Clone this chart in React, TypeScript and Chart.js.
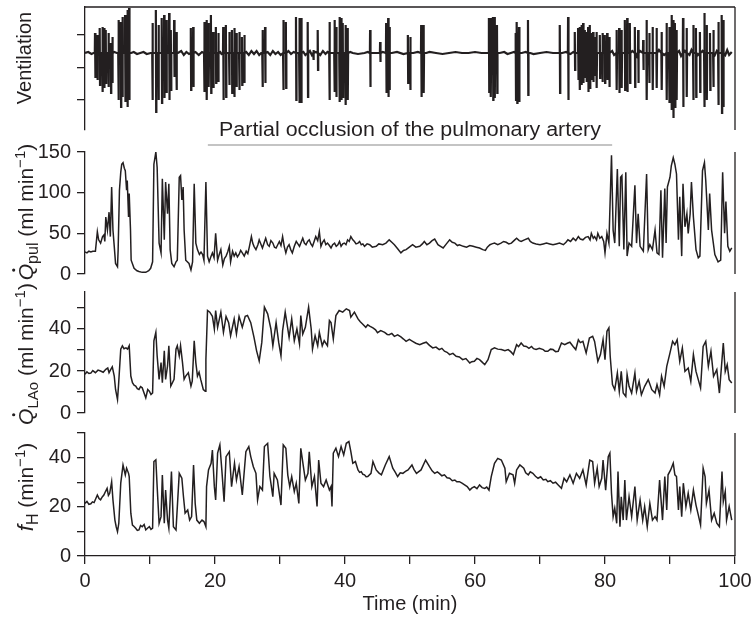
import React, { useEffect, useRef } from 'react';
import { Chart, registerables } from 'chart.js';

Chart.register(...registerables);

const FONT = '"Liberation Sans", Arial, Helvetica, sans-serif';
const INK = '#231f20';

// ---------- axes ----------
const timeTicks = [0, 10, 20, 30, 40, 50, 60, 70, 80, 90, 100];
const timeTickLabels = ['0', '', '20', '', '40', '', '60', '', '80', '', '100'];
const ventTicks = [18, -15, -47];
const qpulTicks = [0, 50, 100, 150];
const qpulTickLabels = ['0', '50', '100', '150'];
const qlaoTicks = [0, 10, 20, 30, 40, 50];
const qlaoTickLabels = ['0', '', '20', '', '40', ''];
const fhTicks = [0, 10, 20, 30, 40, 50];
const fhTickLabels = ['0', '', '20', '', '40', ''];

const occlusionLabel = 'Partial occlusion of the pulmonary artery';
const occlusionStart = 18.9;
const occlusionEnd = 81.1;

// ---------- ventilation (arbitrary units, 0 = baseline) ----------
// [time, top, bottom] of each breathing stroke
const ventSpikes: number[][] = [
  [1.54, 20, -25], [1.9, 18, -27], [2.26, 25, -32], [2.67, 26, -39], [2.93, 25, -35], [3.19, 23, -30], [3.6, 20, -34],
  [3.96, 10, -40], [4.2, 16, -30],
  [5.14, 33, -47], [5.5, 31, -54], [5.75, 36, -44], [6.16, 38, -49], [6.52, 43, -54], [6.78, 45, -47],
  [10.37, 30, -47], [10.9, 43, -59], [11.3, 28, -47], [11.8, 35, -50], [12.17, 38, -45], [12.53, 33, -40], [12.94, 40, -47],
  [13.2, 23, -37], [13.71, 33, -24], [14.07, 21, -37],
  [16.28, 25, -37], [16.64, 26, -34],
  [18.34, 31, -39], [18.7, 33, -47], [19.0, 30, -34], [19.37, 38, -40], [19.72, 21, -35], [20.13, 26, -30], [20.5, 20, -29],
  [21.26, 26, -47], [21.67, 28, -44], [22.19, 21, -32], [22.6, 23, -40], [22.96, 25, -44], [23.3, 20, -34], [23.73, 21, -37],
  [24.14, 16, -32], [24.5, 18, -30],
  [27.3, 23, -34], [27.7, 26, -30],
  [30.5, 33, -37], [30.9, 31, -35],
  [32.46, 36, -47], [32.97, 35, -50], [33.25, 35, -50],
  [34.26, 31, -44], [35.13, 3, -7], [35.8, 23, -17],
  [37.6, 31, -47], [38.37, 33, -39], [38.63, 26, -44], [39.14, 36, -49], [39.4, 35, -47], [39.65, 30, -44], [40.06, 28, -52],
  [40.4, 25, -47],
  [43.86, 23, -34], [45.4, 11, -9],
  [46.33, 30, -40], [46.64, 35, -44], [46.84, 26, -37],
  [49.67, 18, -30], [50.03, 16, -37],
  [51.72, 28, -44], [52.08, 28, -40],
  [62.14, 35, -39], [62.4, 35, -44], [62.76, 36, -47], [63.02, 36, -45], [63.38, 28, -40],
  [66.26, 20, -47], [66.46, 31, -50], [66.77, 26, -49],
  [68.15, 33, -42],
  [73.04, 28, -40],
  [74.32, 36, -47],
  [75.35, 21, -17], [75.86, 25, -27], [76.1, 26, -37], [76.37, 28, -32], [76.63, 30, -30], [76.89, 23, -24], [77.15, 21, -29],
  [77.4, 26, -39], [77.66, 28, -35], [77.92, 20, -27], [78.17, 21, -29], [78.43, 16, -22], [78.69, 21, -35], [79.2, 18, -25],
  [79.6, 20, -29], [79.97, 18, -30], [80.33, 20, -27], [80.64, 16, -34],
  [81.77, 23, -37], [82.17, 25, -40], [82.54, 23, -35], [83.05, 33, -37], [83.41, 35, -39], [83.82, 30, -30],
  [84.59, 26, -34], [85.1, 23, -30], [85.87, 13, -17], [86.39, 33, -47], [86.8, 20, -30], [87.32, 26, -37], [87.93, 25, -35],
  [88.7, 21, -37], [89.47, 30, -47], [89.88, 26, -50], [90.24, 38, -57], [90.5, 33, -65], [90.75, 30, -54], [91.0, 23, -47],
  [92.0, 35, -54], [92.55, 25, -44], [93.57, 28, -47], [93.99, 25, -44], [94.6, 21, -39], [95.27, 40, -54], [95.64, 28, -47],
  [96.15, 20, -37], [96.66, 23, -34], [97.43, 31, -52], [97.95, 38, -60], [98.2, 33, -54],
];
// [time, value] of the quiet baseline between strokes
const ventBase: number[][] = [
  [0, 0], [0.5, 1], [1.0, -1], [1.3, 0], [4.5, 1], [4.9, 0], [7.1, 0], [7.5, 1], [8.0, -1], [8.5, 0], [9.0, 1], [9.5, -1], [10.1, 0],
  [14.3, 0], [14.8, 2], [15.2, -2], [15.6, 1], [16.0, -1], [17.0, 1], [17.5, -2], [18.0, 1], [20.8, 1], [21.0, -1],
  [24.8, 1], [25.2, -2], [25.6, 2], [26.0, -1], [26.4, 2], [26.8, -2], [27.1, 0], [28.1, 1], [28.5, -2], [28.9, 2],
  [29.3, -1], [29.7, 1], [30.1, -2], [31.3, 2], [31.7, -1], [32.1, 1], [33.6, 1], [33.9, -2], [34.6, 2], [34.9, -2],
  [35.5, 1], [36.2, -2], [36.6, 2], [37.0, -1], [37.3, 1], [40.8, 1], [41.2, 0], [42.0, -1], [43.0, 0], [43.5, 1],
  [44.3, 0], [45.0, 0], [45.8, 1], [47.2, 0], [48.0, 1], [49.0, -1], [50.5, 0], [51.2, 1], [52.5, 0], [53.0, 1],
  [54.0, 0], [55.0, -1], [56.0, 0], [57.0, 1], [58.0, 0], [59.0, 0], [60.0, 1], [61.0, 0], [61.8, 0], [63.8, 0],
  [64.5, 1], [65.0, -1], [65.5, 0], [66.0, 1], [67.2, 0], [67.8, 1], [68.5, 0], [69.0, -1], [70.0, 0], [71.0, 1],
  [72.0, 0], [72.7, 0], [73.4, 0], [74.0, 1], [74.7, -1], [75.1, 1], [81.1, 2], [81.4, -2], [84.2, 2], [84.9, -3],
  [85.4, 2], [88.3, 3], [89.1, -2], [91.4, 2], [91.7, -3], [92.3, 2], [93.0, -2], [93.3, 3], [94.3, -2], [95.0, 2],
  [96.9, -2], [97.2, 2], [98.5, -2], [98.8, 3], [99.1, -2], [99.5, 1],
];

// ---------- pulmonary flow (ml/min) ----------
const qpulSamples: number[][] = [
  [0, 27], [0.3, 26], [0.6, 28], [0.9, 27], [1.2, 28], [1.6, 28], [1.9, 52], [2.1, 42], [2.4, 38], [2.7, 46], [2.9, 48],
  [3.05, 40], [3.2, 70], [3.45, 54], [3.7, 76], [3.9, 46], [4.1, 107], [4.3, 54], [4.5, 34], [4.7, 13], [5.0, 9], [5.1, 30],
  [5.3, 103], [5.5, 125], [5.65, 135], [5.85, 137], [6.05, 130], [6.2, 127], [6.4, 103], [6.5, 115], [6.7, 70], [6.8, 99],
  [7.0, 54], [7.1, 17], [7.55, 7], [8.0, 4], [8.3, 3], [8.8, 2], [9.35, 2], [9.8, 4], [10.1, 7], [10.4, 15], [10.6, 135],
  [10.9, 150], [11.1, 131], [11.4, 38], [11.7, 26], [11.9, 117], [12.2, 42], [12.4, 113], [12.7, 74], [12.9, 111], [13.1, 30],
  [13.35, 13], [13.7, 9], [14.0, 15], [14.2, 17], [14.5, 119], [14.7, 121], [14.9, 91], [15.1, 107], [15.25, 54], [15.5, 17],
  [16.0, 13], [16.3, 5], [16.55, 15], [16.8, 111], [17.05, 38], [17.3, 30], [17.6, 24], [17.85, 27], [18.1, 24], [18.3, 17],
  [18.6, 113], [18.85, 22], [19.1, 15], [19.35, 21], [19.6, 26], [19.85, 20], [20.1, 50], [20.4, 17], [20.65, 24], [20.9, 30],
  [21.2, 11], [21.45, 19], [21.7, 22], [21.95, 27], [22.2, 34], [22.4, 15], [22.7, 28], [22.95, 22], [23.2, 26], [23.45, 21],
  [23.7, 24], [23.95, 29], [24.2, 26], [24.5, 22], [24.8, 28], [25.05, 25], [25.3, 34], [25.6, 46], [25.8, 38], [26.0, 34],
  [26.3, 30], [26.6, 36], [26.8, 42], [27.05, 37], [27.3, 32], [27.55, 38], [27.8, 44], [28.1, 36], [28.35, 34], [28.6, 41],
  [28.9, 38], [29.15, 33], [29.4, 32], [29.65, 36], [29.9, 40], [30.15, 35], [30.4, 46], [30.65, 34], [30.9, 26], [31.15, 33],
  [31.4, 36], [31.65, 30], [31.9, 26], [32.2, 34], [32.5, 40], [32.75, 37], [33.0, 34], [33.25, 39], [33.5, 44], [33.75, 38],
  [34.0, 36], [34.25, 40], [34.5, 42], [34.75, 37], [35.0, 34], [35.25, 40], [35.5, 46], [35.8, 41], [36.05, 52], [36.3, 34],
  [36.55, 39], [36.8, 42], [37.05, 36], [37.3, 38], [37.6, 35], [37.85, 32], [38.1, 36], [38.4, 38], [38.65, 34], [38.9, 36],
  [39.15, 40], [39.4, 34], [39.65, 37], [39.9, 38], [40.15, 36], [40.4, 42], [40.65, 40], [40.9, 46], [41.2, 42], [41.45, 40],
  [41.7, 37], [42.0, 38], [42.25, 40], [42.5, 36], [42.75, 37], [43.0, 34], [43.4, 37], [43.8, 36], [44.2, 33], [44.8, 34],
  [45.2, 37], [45.8, 36], [46.3, 38], [46.8, 42], [47.2, 39], [47.6, 36], [48.1, 31], [48.6, 26], [49.0, 29], [49.4, 30],
  [49.9, 33], [50.4, 36], [50.9, 33], [51.5, 34], [51.9, 37], [52.2, 40], [52.6, 36], [53.0, 38], [53.4, 41], [53.8, 43],
  [54.3, 36], [54.7, 34], [55.1, 32], [55.6, 37], [56.1, 42], [56.5, 39], [56.9, 38], [57.3, 35], [57.6, 36], [58.2, 34],
  [58.7, 33], [59.2, 35], [59.7, 34], [60.2, 33], [60.7, 32], [61.2, 30], [61.6, 29], [61.9, 33], [62.3, 36], [62.6, 37],
  [63.0, 38], [63.5, 36], [64.0, 38], [64.4, 40], [64.8, 39], [65.2, 37], [65.6, 38], [66.0, 41], [66.4, 44], [66.8, 41],
  [67.1, 40], [67.6, 42], [68.2, 44], [68.5, 40], [68.9, 38], [69.4, 37], [70.0, 36], [70.5, 37], [71.0, 38], [71.5, 37],
  [72.0, 36], [72.5, 37], [73.0, 38], [73.6, 36], [74.0, 39], [74.3, 42], [74.7, 40], [75.1, 44], [75.5, 41], [75.9, 46],
  [76.2, 43], [76.6, 42], [77.0, 45], [77.4, 46], [77.7, 42], [77.9, 50], [78.2, 44], [78.4, 46], [78.7, 42], [78.9, 50],
  [79.2, 44], [79.5, 46], [79.8, 40], [80.0, 26], [80.3, 50], [80.6, 38], [81.0, 146], [81.25, 54], [81.5, 38], [81.9, 129],
  [82.2, 34], [82.4, 119], [82.6, 121], [82.9, 30], [83.2, 125], [83.4, 22], [83.7, 38], [84.1, 34], [84.6, 109], [84.85, 38],
  [85.1, 74], [85.4, 34], [85.9, 28], [86.4, 123], [86.65, 30], [86.9, 36], [87.3, 30], [87.7, 54], [88.0, 26], [88.3, 24],
  [88.6, 103], [88.85, 20], [89.2, 105], [89.4, 38], [89.6, 107], [90.0, 119], [90.2, 133], [90.5, 143], [90.75, 135],
  [91.0, 123], [91.3, 42], [91.5, 95], [91.8, 22], [92.0, 111], [92.3, 58], [92.6, 74], [92.8, 50], [93.1, 74], [93.3, 113],
  [93.6, 70], [94.0, 30], [94.35, 20], [94.6, 22], [95.0, 127], [95.3, 137], [95.5, 115], [95.9, 54], [96.1, 99], [96.4, 54],
  [96.9, 24], [97.4, 15], [97.8, 17], [98.1, 125], [98.4, 50], [98.6, 89], [98.9, 34], [99.2, 28], [99.5, 32],
];

// ---------- left aortic flow (ml/min) ----------
const qlaoSamples: number[][] = [
  [0, 18.4], [0.3, 19.6], [0.6, 18.8], [0.9, 19], [1.2, 20.2], [1.6, 19.2], [2.0, 20.4], [2.4, 20], [2.8, 19.4], [3.2, 20.8],
  [3.5, 21.4], [3.7, 19.2], [3.95, 20.6], [4.2, 22], [4.5, 17.6], [4.7, 11.2], [5.0, 6.4], [5.15, 12.8], [5.5, 30.4],
  [5.75, 32], [6.0, 30.6], [6.3, 31], [6.55, 30.4], [6.8, 32], [7.05, 17.6], [7.3, 14.4], [7.55, 13.2], [7.8, 12.8],
  [8.05, 11.6], [8.3, 11.2], [8.55, 12.6], [8.8, 12], [9.1, 9.4], [9.35, 7.2], [9.65, 11.2], [9.9, 10.4], [10.15, 8.8],
  [10.4, 9.6], [10.6, 34.4], [10.9, 38.4], [11.1, 27.2], [11.4, 16], [11.7, 24], [11.9, 14.4], [12.2, 29.6], [12.4, 16],
  [12.7, 22.4], [12.9, 32], [13.2, 12.8], [13.45, 14.4], [13.7, 16], [14.0, 30.4], [14.2, 32], [14.5, 27.2], [14.7, 32],
  [15.0, 24], [15.25, 16], [15.5, 17.6], [15.9, 19.2], [16.3, 12.8], [16.5, 15.2], [16.8, 34.4], [17.05, 24], [17.3, 17.6],
  [17.55, 19.4], [17.8, 16], [18.2, 11.2], [18.5, 10.4], [18.6, 25.6], [18.85, 48.8], [19.2, 48], [19.6, 46], [19.9, 40],
  [20.1, 48.8], [20.4, 40.8], [20.9, 48], [21.3, 38.4], [21.7, 46], [22.1, 43], [22.4, 36.8], [22.95, 44.8], [23.3, 37.6],
  [23.7, 46], [24.2, 40.8], [24.65, 46], [25.0, 46.4], [25.5, 43], [26.0, 36], [26.4, 29.6], [26.8, 24.8], [27.2, 33.6],
  [27.6, 50.4], [28.1, 47.2], [28.6, 40], [28.9, 32], [29.4, 43], [29.8, 33.6], [30.15, 27.2], [30.4, 39.2], [30.8, 48],
  [31.2, 40], [31.4, 36], [31.8, 44.8], [32.2, 34.4], [32.6, 40], [33.0, 32.8], [33.2, 46.4], [33.5, 37.6], [33.9, 40.8],
  [34.4, 50.4], [34.8, 40], [35.0, 30.4], [35.4, 36.8], [35.8, 32], [36.05, 38.4], [36.5, 32], [36.8, 34.4], [37.3, 32],
  [37.6, 44], [37.85, 43], [38.2, 35.2], [38.6, 46.4], [39.1, 48.8], [39.65, 48], [40.2, 49.6], [40.7, 48.8], [40.9, 45.6],
  [41.45, 48], [42.0, 44.8], [42.35, 43.4], [42.7, 42.4], [43.2, 40.8], [43.5, 42], [43.8, 41.4], [44.3, 40.5], [44.7, 39.6],
  [45.0, 38.2], [45.5, 39.2], [46.1, 38.4], [46.5, 37.4], [46.8, 37.3], [47.2, 37.9], [47.6, 36.5], [48.1, 37.2], [48.6, 36.2],
  [49.0, 35.2], [49.4, 34.1], [49.9, 35], [50.4, 34.1], [50.9, 33.2], [51.5, 32.5], [52.0, 33.2], [52.5, 33.7], [53.0, 32.2],
  [53.5, 31], [54.0, 31.4], [54.5, 30.2], [54.9, 30.8], [55.3, 29.4], [55.7, 28.9], [56.1, 27.8], [56.6, 28.4], [57.1, 27],
  [57.6, 26.7], [58.1, 25.4], [58.6, 25.9], [59.2, 23.8], [59.5, 24.4], [59.9, 24.6], [60.3, 26], [60.7, 25.4], [61.1, 24.2],
  [61.5, 23], [62.0, 25.4], [62.5, 30.2], [63.0, 31], [63.5, 30.4], [64.05, 30.2], [64.6, 29.6], [65.1, 30.2], [65.5, 29.2],
  [65.9, 27.8], [66.4, 32.5], [66.7, 31.6], [67.1, 33.3], [67.5, 31.9], [67.9, 31.7], [68.3, 30.8], [68.7, 31.7], [69.0, 30.6],
  [69.4, 30.2], [69.9, 30.8], [70.5, 30.2], [70.8, 29.4], [71.2, 29.4], [71.6, 30.4], [72.0, 30.2], [72.4, 29.2], [72.8, 29.4],
  [73.3, 33.3], [73.8, 32.5], [74.2, 33.2], [74.6, 33.7], [75.1, 31.7], [75.5, 30.2], [75.9, 34.9], [76.2, 33.5], [76.6, 34.1],
  [77.1, 28.6], [77.6, 35.7], [78.1, 36.5], [78.4, 34.1], [78.9, 24.6], [79.3, 27.8], [79.7, 34.9], [80.0, 25.4], [80.3, 38.9],
  [80.6, 40.5], [80.8, 27], [81.15, 13.5], [81.5, 11.1], [81.9, 19], [82.2, 10.3], [82.5, 19.8], [82.8, 9.5], [83.2, 7.9],
  [83.4, 18.3], [83.7, 12.7], [84.1, 9.5], [84.6, 19], [84.85, 10.3], [85.25, 15.1], [85.6, 8.7], [86.1, 12.7], [86.65, 15.9],
  [87.2, 11.1], [87.7, 9.5], [88.0, 13.5], [88.4, 8.7], [88.7, 17.5], [89.1, 12.7], [89.5, 22.2], [90.0, 28.6], [90.4, 34.1],
  [90.75, 32.5], [91.1, 34.9], [91.5, 24.6], [91.9, 31], [92.3, 19.8], [92.8, 21.4], [93.2, 15.1], [93.6, 27.8], [94.0, 19.8],
  [94.35, 15.9], [94.7, 11.9], [95.1, 31.7], [95.5, 34.1], [95.9, 22.2], [96.3, 29.4], [96.7, 17.5], [97.2, 20.6], [97.6, 9.5],
  [98.0, 25.4], [98.2, 33.3], [98.5, 19.8], [98.8, 23], [99.1, 15.9], [99.5, 14.3],
];

// ---------- heart rate (1/min) ----------
const fhSamples: number[][] = [
  [0, 21.4], [0.3, 22.2], [0.6, 21], [0.9, 21.2], [1.15, 22], [1.4, 21.7], [1.9, 24.8], [2.15, 23.4], [2.4, 22.8], [2.65, 24],
  [2.9, 24.8], [3.15, 26.2], [3.4, 27.5], [3.6, 24.6], [3.8, 25.5], [4.1, 30.2], [4.3, 22.8], [4.6, 14.6], [4.8, 11.9],
  [5.0, 9.9], [5.2, 13.3], [5.5, 29.6], [5.85, 37], [6.2, 33], [6.4, 35.7], [6.7, 33.6], [6.8, 32.3], [7.05, 17.4], [7.3, 12.6],
  [7.55, 12], [7.8, 11.3], [8.05, 10.4], [8.3, 10.6], [8.55, 12.4], [8.8, 11.9], [9.1, 12.8], [9.35, 10.6], [9.65, 11.4],
  [9.9, 11.9], [10.15, 10.8], [10.4, 11.3], [10.6, 38.4], [10.9, 39.1], [11.1, 28.2], [11.4, 13.3], [11.7, 16], [11.9, 32.9],
  [12.2, 13.3], [12.4, 26.8], [12.7, 14.6], [12.9, 11.3], [13.3, 34.3], [13.6, 11.9], [14.0, 10.6], [14.5, 33.6], [14.9, 31.6],
  [15.15, 24.1], [15.4, 17.4], [15.8, 18.7], [16.1, 14.6], [16.4, 16], [16.7, 37], [16.95, 21.4], [17.2, 14.6], [17.6, 13.3],
  [18.0, 14.6], [18.3, 14], [18.6, 11.9], [18.7, 28.2], [19.0, 35], [19.4, 37.7], [19.6, 43.1], [19.9, 28.2], [20.1, 22.8],
  [20.4, 41.8], [20.75, 45.2], [21.05, 35], [21.4, 22.1], [21.7, 40.4], [22.2, 42.4], [22.55, 28.2], [23.0, 37.7], [23.3, 30.9],
  [23.7, 36.3], [24.2, 24.8], [24.75, 42.4], [25.2, 44.5], [25.5, 40.4], [25.9, 36.3], [26.3, 33.6], [26.55, 22.8], [26.9, 28.2],
  [27.3, 26.8], [27.6, 44.5], [28.1, 45.8], [28.45, 32.3], [28.9, 24.1], [29.1, 33.6], [29.6, 30.9], [30.15, 20.7], [30.5, 45.2],
  [30.9, 43.8], [31.2, 32.9], [31.5, 28.2], [31.8, 32.3], [32.2, 26.2], [32.5, 29.6], [32.9, 21.4], [33.2, 43.8], [33.6, 36.3],
  [33.9, 30.9], [34.3, 33.6], [34.5, 42.4], [34.9, 28.2], [35.3, 32.3], [35.7, 20.1], [35.95, 39], [36.3, 29.6], [36.7, 28.2],
  [37.1, 30.9], [37.6, 26.8], [37.85, 28.2], [38.0, 20.1], [38.2, 41.8], [38.6, 43.8], [39.0, 40.4], [39.4, 44.5], [39.8, 41.1],
  [40.2, 45.8], [40.6, 46.5], [40.9, 42.4], [41.2, 37.7], [41.6, 38.4], [42.0, 35], [42.25, 34], [42.5, 34.3], [42.75, 33.2],
  [43.0, 33], [43.25, 32.2], [43.5, 32.3], [44.0, 33.6], [44.3, 38.4], [44.8, 35], [45.2, 33.8], [45.6, 33], [46.2, 37],
  [46.8, 40.4], [47.35, 35.7], [47.7, 34.2], [48.1, 32.3], [48.5, 33.8], [48.9, 33.6], [49.3, 34.4], [49.7, 35], [50.3, 37],
  [50.6, 35.2], [51.0, 33.6], [51.3, 34.2], [51.7, 35], [52.4, 39], [53.0, 36.3], [53.4, 34.6], [53.8, 33.6], [54.2, 34.2],
  [54.5, 33.6], [54.9, 32.6], [55.3, 33], [55.7, 31.8], [56.1, 31.6], [56.5, 30.6], [56.9, 30.9], [57.2, 30.2], [57.6, 30.2],
  [58.0, 29.6], [58.4, 28.9], [58.8, 28.2], [59.2, 26.8], [59.5, 27.6], [59.9, 28.2], [60.3, 27.4], [60.7, 28.9], [61.1, 27.8],
  [61.5, 27.5], [61.8, 28], [62.15, 26.8], [62.5, 32.3], [63.0, 37.7], [63.5, 39.7], [64.05, 39], [64.6, 35.7], [64.8, 30.2],
  [65.3, 33.6], [65.85, 33], [66.1, 29.6], [66.4, 35], [66.9, 37], [67.5, 35.7], [67.8, 33.8], [68.2, 33], [68.5, 34.2],
  [68.9, 33.6], [69.3, 32.4], [69.7, 31.6], [70.1, 32.2], [70.5, 30.9], [70.9, 31.2], [71.2, 30.2], [71.6, 30.6], [72.0, 29.6],
  [72.4, 30], [72.8, 28.9], [73.3, 27.5], [73.7, 31.6], [74.1, 30.2], [74.6, 33], [75.1, 29.6], [75.6, 33.6], [76.1, 31.6],
  [76.6, 35], [77.1, 28.9], [77.65, 39], [78.1, 38.4], [78.4, 29.6], [78.8, 35.7], [79.1, 28.2], [79.5, 31.6], [79.7, 39],
  [80.1, 26.8], [80.5, 40.4], [80.75, 41.8], [81.0, 25.5], [81.25, 16], [81.5, 19.4], [81.8, 13.3], [82.0, 34.3], [82.3, 11.9],
  [82.5, 24.1], [82.8, 14.6], [83.05, 30.9], [83.3, 14.6], [83.7, 24.1], [84.1, 16], [84.6, 28.2], [84.95, 14.6], [85.4, 22.8],
  [85.8, 14.6], [86.1, 20.1], [86.5, 11.9], [86.9, 21.4], [87.3, 14.6], [87.7, 16], [88.0, 14.6], [88.4, 30.9], [88.85, 14.6],
  [89.2, 32.3], [89.5, 18.7], [89.7, 33], [90.1, 35], [90.5, 37.7], [90.75, 33], [91.0, 32.3], [91.3, 18.7], [91.5, 28.2],
  [91.8, 16], [92.05, 29.6], [92.45, 20.1], [92.8, 25.5], [93.2, 18.7], [93.6, 26.8], [94.0, 20.7], [94.35, 16.7], [94.7, 12.6],
  [95.1, 35.7], [95.4, 32.3], [95.6, 21.4], [96.0, 26.8], [96.4, 14.6], [96.8, 17.4], [97.2, 13.3], [97.6, 11.9], [98.0, 34.3],
  [98.2, 22.1], [98.5, 26.2], [98.7, 14.6], [99.1, 20.1], [99.5, 14.6],
];

// ---------- helpers ----------
type Part = { text: string; size: number; italic?: boolean; dy?: number; dot?: boolean };

function drawRotatedTitle(ctx: CanvasRenderingContext2D, parts: Part[], xBase: number, yCenter: number) {
  ctx.save();
  const fonts = parts.map((p) => `${p.italic ? 'italic ' : ''}${p.size}px ${FONT}`);
  const widths = parts.map((p, i) => {
    ctx.font = fonts[i];
    return ctx.measureText(p.text).width;
  });
  const total = widths.reduce((a, b) => a + b, 0);
  ctx.translate(xBase, yCenter);
  ctx.rotate(-Math.PI / 2);
  ctx.fillStyle = INK;
  ctx.textAlign = 'left';
  ctx.textBaseline = 'alphabetic';
  let x = -total / 2;
  parts.forEach((p, i) => {
    ctx.font = fonts[i];
    ctx.fillText(p.text, x, p.dy || 0);
    if (p.dot) {
      ctx.beginPath();
      ctx.arc(x + widths[i] * 0.62, -p.size * 0.92, 1.6, 0, Math.PI * 2);
      ctx.fill();
    }
    x += widths[i];
  });
  ctx.restore();
}

function toPoints(samples: number[][]) {
  return samples.map(([x, y]) => ({ x, y }));
}

function ventPoints() {
  const pts: { x: number; y: number }[] = [];
  ventSpikes.forEach(([t, hi, lo]) => {
    pts.push({ x: t - 0.03, y: 0 });
    pts.push({ x: t, y: hi });
    pts.push({ x: t + 0.05, y: lo });
    pts.push({ x: t + 0.08, y: 0 });
  });
  ventBase.forEach(([t, v]) => pts.push({ x: t, y: v }));
  pts.sort((a, b) => a.x - b.x);
  return pts;
}

type PanelSpec = {
  points: { x: number; y: number }[];
  top: number;
  bottom: number;
  min: number;
  max: number;
  ticks: number[];
  tickLabels: string[];
  showX: boolean;
  lineWidth: number;
  frameTop?: boolean;
  extra?: (chart: Chart) => void;
};

const LEFT = 85;
const RIGHT = 735;
const W = 754;
const H = 617;
const X_AXIS_H = 40;

function buildChart(canvas: HTMLCanvasElement, p: PanelSpec) {
  const frame = {
    id: 'frame',
    afterDraw(chart: Chart) {
      const { ctx, chartArea } = chart;
      ctx.save();
      ctx.strokeStyle = INK;
      ctx.lineWidth = 1.3;
      ctx.beginPath();
      ctx.moveTo(chartArea.right, chartArea.top);
      ctx.lineTo(chartArea.right, chartArea.bottom);
      if (p.frameTop) {
        ctx.moveTo(chartArea.left, chartArea.top);
        ctx.lineTo(chartArea.right, chartArea.top);
      }
      ctx.stroke();
      ctx.restore();
      if (p.extra) p.extra(chart);
    },
  };
  return new Chart(canvas, {
    type: 'line',
    data: {
      datasets: [
        {
          data: p.points,
          borderColor: INK,
          borderWidth: p.lineWidth,
          pointRadius: 0,
          tension: 0,
          fill: false,
        },
      ],
    },
    options: {
      responsive: false,
      animation: false,
      events: [],
      layout: {
        padding: {
          left: 0,
          right: W - RIGHT,
          top: p.top,
          bottom: H - p.bottom - (p.showX ? X_AXIS_H : 0),
        },
      },
      plugins: { legend: { display: false }, tooltip: { enabled: false }, title: { display: false } },
      scales: {
        x: {
          type: 'linear',
          min: 0,
          max: 100,
          display: p.showX,
          afterBuildTicks(s: any) {
            s.ticks = timeTicks.map((v) => ({ value: v }));
          },
          afterFit(s: any) {
            if (p.showX) s.height = X_AXIS_H;
            s.paddingLeft = 0;
            s.paddingRight = 0;
          },
          ticks: {
            autoSkip: false,
            maxRotation: 0,
            padding: 5,
            color: INK,
            font: { family: FONT, size: 20 },
            callback: (_v: any, i: number) => timeTickLabels[i],
          },
          grid: { drawOnChartArea: false, drawTicks: true, tickLength: 8, color: INK, lineWidth: 1.3 },
          border: { display: true, color: INK, width: 1.3 },
        },
        y: {
          type: 'linear',
          min: p.min,
          max: p.max,
          afterBuildTicks(s: any) {
            s.ticks = p.ticks.map((v) => ({ value: v }));
          },
          afterFit(s: any) {
            s.width = LEFT;
            s.paddingTop = 0;
            s.paddingBottom = 0;
          },
          ticks: {
            autoSkip: false,
            padding: 6,
            color: INK,
            font: { family: FONT, size: 20 },
            callback: (_v: any, i: number) => p.tickLabels[i],
          },
          grid: { drawOnChartArea: false, drawTicks: true, tickLength: 8, color: INK, lineWidth: 1.3 },
          border: { display: true, color: INK, width: 1.3 },
        },
      },
    } as any,
    plugins: [frame],
  });
}

const panels: PanelSpec[] = [
  {
    points: ventPoints(),
    top: 7,
    bottom: 130,
    min: -77,
    max: 46,
    ticks: ventTicks,
    tickLabels: ventTicks.map(() => ''),
    showX: false,
    lineWidth: 2.2,
    frameTop: true,
    extra: (chart) => {
      drawRotatedTitle(chart.ctx, [{ text: 'Ventilation', size: 20 }], 31, 58);
    },
  },
  {
    points: toPoints(qpulSamples),
    top: 152,
    bottom: 274,
    min: 0,
    max: 150,
    ticks: qpulTicks,
    tickLabels: qpulTickLabels,
    showX: false,
    lineWidth: 1.5,
    extra: (chart) => {
      const ctx = chart.ctx;
      const xs = chart.scales.x;
      ctx.save();
      ctx.strokeStyle = '#c4c4c4';
      ctx.lineWidth = 2;
      ctx.beginPath();
      ctx.moveTo(xs.getPixelForValue(occlusionStart), 145);
      ctx.lineTo(xs.getPixelForValue(occlusionEnd), 145);
      ctx.stroke();
      ctx.fillStyle = INK;
      ctx.font = `20px ${FONT}`;
      ctx.textAlign = 'center';
      ctx.textBaseline = 'alphabetic';
      ctx.translate(xs.getPixelForValue(50), 136);
      ctx.scale(1.07, 1);
      ctx.fillText(occlusionLabel, 0, 0);
      ctx.restore();
      drawRotatedTitle(
        ctx,
        [
          { text: 'Q', size: 21, italic: true, dot: true },
          { text: 'pul', size: 16, dy: 5 },
          { text: ' (ml min', size: 21 },
          { text: '\u22121', size: 15, dy: -8 },
          { text: ')', size: 21 },
        ],
        33,
        212
      );
    },
  },
  {
    points: toPoints(qlaoSamples),
    top: 292,
    bottom: 413,
    min: 0,
    max: 57.6,
    ticks: qlaoTicks,
    tickLabels: qlaoTickLabels,
    showX: false,
    lineWidth: 1.5,
    extra: (chart) => {
      drawRotatedTitle(
        chart.ctx,
        [
          { text: 'Q', size: 21, italic: true, dot: true },
          { text: 'LAo', size: 15, dy: 5 },
          { text: ' (ml min', size: 21 },
          { text: '\u22121', size: 15, dy: -8 },
          { text: ')', size: 21 },
        ],
        33,
        354
      );
    },
  },
  {
    points: toPoints(fhSamples),
    top: 433,
    bottom: 556,
    min: 0,
    max: 50,
    ticks: fhTicks,
    tickLabels: fhTickLabels,
    showX: true,
    lineWidth: 1.5,
    extra: (chart) => {
      const ctx = chart.ctx;
      drawRotatedTitle(
        ctx,
        [
          { text: 'f', size: 22, italic: true },
          { text: 'H', size: 16, dy: 5 },
          { text: ' (min', size: 21 },
          { text: '\u22121', size: 15, dy: -8 },
          { text: ')', size: 21 },
        ],
        33,
        487
      );
      ctx.save();
      ctx.fillStyle = INK;
      ctx.font = `20px ${FONT}`;
      ctx.textAlign = 'center';
      ctx.textBaseline = 'alphabetic';
      ctx.fillText('Time (min)', chart.scales.x.getPixelForValue(50), 610);
      ctx.restore();
    },
  },
];

export default function App() {
  const refs = [
    useRef<HTMLCanvasElement>(null),
    useRef<HTMLCanvasElement>(null),
    useRef<HTMLCanvasElement>(null),
    useRef<HTMLCanvasElement>(null),
  ];
  useEffect(() => {
    const charts = panels.map((p, i) => buildChart(refs[i].current as HTMLCanvasElement, p));
    return () => charts.forEach((c) => c.destroy());
  }, []);
  return (
    <div style={{ position: 'absolute', left: 0, top: 0, width: W, height: H, background: '#fff' }}>
      {refs.map((r, i) => (
        <canvas
          key={i}
          ref={r}
          width={W}
          height={H}
          style={{ position: 'absolute', left: 0, top: 0, width: W, height: H }}
        />
      ))}
    </div>
  );
}
